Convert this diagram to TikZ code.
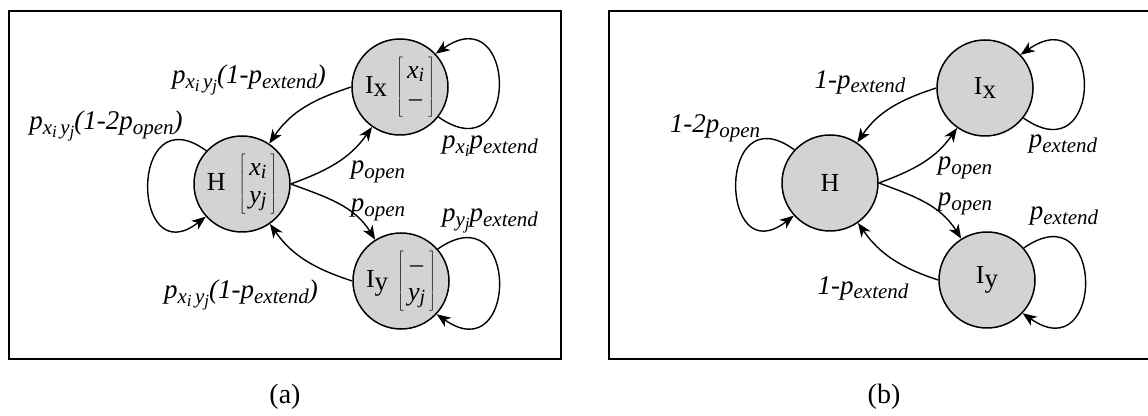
\documentclass[tikz,border=0pt]{standalone}
\usepackage{fontspec}
\setmainfont{Liberation Serif}
\usetikzlibrary{arrows.meta}
\definecolor{nodegray}{RGB}{211,211,211}
\newcommand\Sb[1]{\raisebox{-0.18em}{\fontsize{21}{21}\selectfont #1}}
\newcommand\SSb[1]{\raisebox{-0.15em}{\fontsize{17}{17}\selectfont #1}}
\newcommand\Bsub[1]{\raisebox{-0.12em}{\fontsize{20}{20}\selectfont #1}}
\newcommand\Ssub[1]{\raisebox{-0.13em}{\fontsize{27}{27}\selectfont #1}}
\newcommand\Br[2]{{\delimitershortfall=-3pt$\left[\renewcommand\arraystretch{1.05}\begin{array}{@{\,}c@{\,}}\mbox{#1}\\ \mbox{#2}\end{array}\right]$}}
\tikzset{
  stnode/.style={circle, draw, line width=1.5pt, fill=nodegray, minimum size=96pt, inner sep=0pt, font=\fontsize{26}{27}\selectfont},
  lbl/.style={inner sep=0pt, font=\fontsize{27}{30}\selectfont\itshape},
  captxt/.style={inner sep=0pt, font=\fontsize{28}{30}\selectfont},
  conn/.style={line width=1.4pt, -{Stealth[length=14pt,width=11pt,inset=4pt]}},
  boxframe/.style={line width=1.8pt}
}
\begin{document}
\begin{tikzpicture}[x=1pt,y=1pt]
\useasboundingbox (0,0) rectangle (1148,415);
% ---------- panel (a)
\draw[boxframe] (9,56) rectangle (561,404);
\node[stnode] (Ha) at (242,231) {H\hspace{13pt}\Br{\itshape x\Bsub{i}}{\itshape y\Bsub{j}}};
\node[stnode] (Ixa) at (400,328) {I\Ssub{x}\hspace{9pt}\Br{\itshape x\Bsub{i}}{–}};
\node[stnode] (Iya) at (401,134) {I\Ssub{y}\hspace{9pt}\Br{–}{\itshape y\Bsub{j}}};
\draw[conn] (Ixa.west) to[out=198,in=56] (Ha.56);
\draw[conn] (Ha.east) to[out=20,in=235] (Ixa.235);
\draw[conn] (Ha.east) to[out=-20,in=122] (Iya.122);
\draw[conn] (Iya.west) to[out=162,in=-55] (Ha.-55);
\draw[conn] (Ha.137) .. controls +(144:97pt) and +(218:95pt) .. (Ha.222);
\draw[conn] (Ixa.-38) .. controls +(-35:100pt) and +(35:100pt) .. (Ixa.43);
\draw[conn] (Iya.41) .. controls +(35:100pt) and +(-35:100pt) .. (Iya.-43);
\node[lbl] (la1) at (249,335) {p\Sb{x\SSb{i}\,y\SSb{j}}(1-p\Sb{extend})};
\node[lbl] (la2) at (106,289) {p\Sb{x\SSb{i}\,y\SSb{j}}(1-2p\Sb{open})};
\node[lbl] (la3) at (490,269) {p\Sb{x\SSb{i}}p\Sb{extend}};
\node[lbl] (la4) at (490,194) {p\Sb{y\SSb{j}}p\Sb{extend}};
\node[lbl] (la5) at (378,243) {p\Sb{open}};
\node[lbl] (la6) at (378,205) {p\Sb{open}};
\node[lbl] (la7) at (241,120) {p\Sb{x\SSb{i}\,y\SSb{j}}(1-p\Sb{extend})};
\node[captxt] (capa) at (285,18) {(a)};
% ---------- panel (b)
\draw[boxframe] (1150,404) -- (609,404) -- (609,56) -- (1150,56);
\node[stnode] (Hb) at (830,232) {H};
\node[stnode] (Ixb) at (985,327) {I\Ssub{x}};
\node[stnode] (Iyb) at (987,135) {I\Ssub{y}};
\draw[conn] (Ixb.west) to[out=198,in=56] (Hb.56);
\draw[conn] (Hb.east) to[out=20,in=235] (Ixb.235);
\draw[conn] (Hb.east) to[out=-20,in=122] (Iyb.122);
\draw[conn] (Iyb.west) to[out=162,in=-55] (Hb.-55);
\draw[conn] (Hb.137) .. controls +(144:97pt) and +(218:95pt) .. (Hb.222);
\draw[conn] (Ixb.-38) .. controls +(-35:100pt) and +(35:100pt) .. (Ixb.43);
\draw[conn] (Iyb.41) .. controls +(35:100pt) and +(-35:100pt) .. (Iyb.-43);
\node[lbl] (lb1) at (860,333) {1-p\Sb{extend}};
\node[lbl] (lb2) at (715,287) {1-2p\Sb{open}};
\node[lbl] (lb3) at (965,247) {p\Sb{open}};
\node[lbl] (lb4) at (965,211) {p\Sb{open}};
\node[lbl] (lb5) at (863,127) {1-p\Sb{extend}};
\node[lbl] (lb6) at (1063,271) {p\Sb{extend}};
\node[lbl] (lb7) at (1064,199) {p\Sb{extend}};
\node[captxt] (capb) at (884,18) {(b)};
\end{tikzpicture}
\end{document}
